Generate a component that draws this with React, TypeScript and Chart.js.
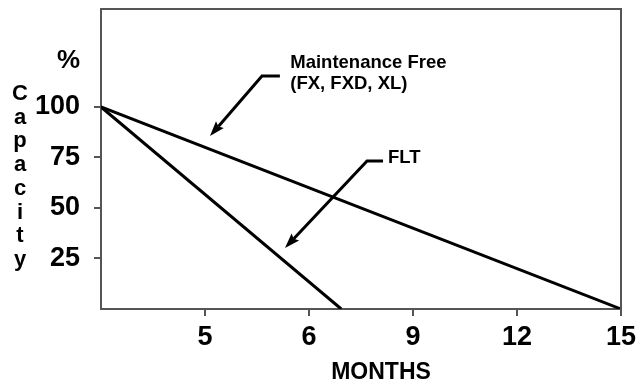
import React, { useEffect, useRef } from "react";
import { Chart, registerables } from "chart.js";

Chart.register(...registerables);

// X tick labels as printed on the chart (equally spaced positions 1..5)
const monthLabels = ["5", "6", "9", "12", "15"];
const yTickValues = [25, 50, 75, 100];

// Series: x is the tick position index (0 = origin), y is % capacity
const maintenanceFreeX = [0, 5];
const maintenanceFreeY = [100, 0];
const fltX = [0, 2.31];
const fltY = [100, 0];

// Annotations (data coordinates)
const annotations = [
  {
    lines: ["Maintenance Free", "(FX, FXD, XL)"],
    textX: 1.82,
    textY: 119.5,
    elbowEndX: 1.72,
    elbowX: 1.548,
    elbowY: 115.3,
    tipX: 1.048,
    tipY: 85.6,
  },
  {
    lines: ["FLT"],
    textX: 2.76,
    textY: 72.5,
    elbowEndX: 2.712,
    elbowX: 2.558,
    elbowY: 73.3,
    tipX: 1.769,
    tipY: 30.2,
  },
];

const FONT = "'Liberation Sans', Arial, Helvetica, sans-serif";

export default function App() {
  const ref = useRef<HTMLCanvasElement | null>(null);

  useEffect(() => {
    document.body.style.margin = "0";
    const canvas = ref.current;
    if (!canvas) return;

    const decor = {
      id: "decor",
      afterDraw(chart: any) {
        const ctx = chart.ctx;
        const ca = chart.chartArea;
        const xs = chart.scales.x;
        const ys = chart.scales.y;
        ctx.save();
        // box top and right borders
        ctx.strokeStyle = "#555";
        ctx.lineWidth = 2;
        ctx.beginPath();
        ctx.moveTo(ca.left, ca.top);
        ctx.lineTo(ca.right, ca.top);
        ctx.lineTo(ca.right, ca.bottom);
        ctx.stroke();

        ctx.fillStyle = "#000";
        // % sign
        ctx.font = `bold 26px ${FONT}`;
        ctx.textAlign = "right";
        ctx.textBaseline = "alphabetic";
        ctx.fillText("%", 80, 68);

        // vertical "Capacity"
        ctx.font = `bold 22px ${FONT}`;
        ctx.textAlign = "center";
        const word = "Capacity";
        for (let i = 0; i < word.length; i++) {
          ctx.fillText(word[i], 20, 100 + i * 23.7);
        }

        // x title
        ctx.font = `bold 23px ${FONT}`;
        ctx.textAlign = "center";
        ctx.fillText("MONTHS", 381, 379);

        // annotations
        for (const a of annotations) {
          const tx = xs.getPixelForValue(a.textX);
          const ty = ys.getPixelForValue(a.textY);
          ctx.font = `bold 18.5px ${FONT}`;
          ctx.textAlign = "left";
          ctx.textBaseline = "alphabetic";
          a.lines.forEach((l, i) => ctx.fillText(l, tx, ty + i * 21));

          const ex = xs.getPixelForValue(a.elbowEndX);
          const bx = xs.getPixelForValue(a.elbowX);
          const by = ys.getPixelForValue(a.elbowY);
          const px = xs.getPixelForValue(a.tipX);
          const py = ys.getPixelForValue(a.tipY);
          const ang = Math.atan2(py - by, px - bx);
          const headLen = 16;
          const baseX = px - Math.cos(ang) * headLen * 0.8;
          const baseY = py - Math.sin(ang) * headLen * 0.8;
          ctx.strokeStyle = "#000";
          ctx.lineWidth = 3;
          ctx.lineJoin = "miter";
          ctx.beginPath();
          ctx.moveTo(ex, by);
          ctx.lineTo(bx, by);
          ctx.lineTo(baseX, baseY);
          ctx.stroke();
          const spread = 0.33;
          ctx.beginPath();
          ctx.moveTo(px, py);
          ctx.lineTo(px - Math.cos(ang - spread) * headLen, py - Math.sin(ang - spread) * headLen);
          ctx.lineTo(baseX, baseY);
          ctx.lineTo(px - Math.cos(ang + spread) * headLen, py - Math.sin(ang + spread) * headLen);
          ctx.closePath();
          ctx.fillStyle = "#000";
          ctx.fill();
        }
        ctx.restore();
      },
    };

    const chart = new Chart(canvas, {
      type: "scatter",
      data: {
        datasets: [
          {
            label: "Maintenance Free (FX, FXD, XL)",
            data: maintenanceFreeX.map((x, i) => ({ x, y: maintenanceFreeY[i] })),
            showLine: true,
            borderColor: "#000",
            borderWidth: 3,
            pointRadius: 0,
          },
          {
            label: "FLT",
            data: fltX.map((x, i) => ({ x, y: fltY[i] })),
            showLine: true,
            borderColor: "#000",
            borderWidth: 3,
            pointRadius: 0,
          },
        ],
      },
      options: {
        responsive: false,
        animation: false,
        layout: { padding: { top: 9, right: 17, left: 0, bottom: 0 } },
        plugins: {
          legend: { display: false },
          tooltip: { enabled: false },
        },
        scales: {
          x: {
            type: "linear",
            min: 0,
            max: 5,
            afterBuildTicks: (s: any) => {
              s.ticks = monthLabels.map((_, i) => ({ value: i + 1 }));
            },
            afterFit: (s: any) => {
              s.height = 72;
              s.paddingLeft = 0;
              s.paddingRight = 0;
            },
            ticks: {
              callback: (v: any) => monthLabels[Math.round(v) - 1] ?? "",
              color: "#000",
              font: { family: FONT, size: 27, weight: "bold" },
              padding: 5,
              maxRotation: 0,
              autoSkip: false,
            },
            grid: {
              drawOnChartArea: false,
              drawTicks: true,
              tickLength: 7,
              color: "#555",
              lineWidth: 2,
            },
            border: { display: true, color: "#555", width: 2 },
          },
          y: {
            type: "linear",
            min: 0,
            max: 148.5,
            afterBuildTicks: (s: any) => {
              s.ticks = yTickValues.map((v) => ({ value: v }));
            },
            afterFit: (s: any) => {
              s.width = 101;
              s.paddingTop = 0;
              s.paddingBottom = 0;
            },
            ticks: {
              color: "#000",
              font: { family: FONT, size: 27, weight: "bold" },
              padding: 14,
            },
            grid: {
              drawOnChartArea: false,
              drawTicks: true,
              tickLength: 7,
              color: "#555",
              lineWidth: 2,
            },
            border: { display: true, color: "#555", width: 2 },
          },
        },
      },
      plugins: [decor],
    } as any);

    return () => chart.destroy();
  }, []);

  return (
    <div style={{ width: 638, height: 381, background: "#fff" }}>
      <canvas ref={ref} width={638} height={381} style={{ display: "block" }} />
    </div>
  );
}
